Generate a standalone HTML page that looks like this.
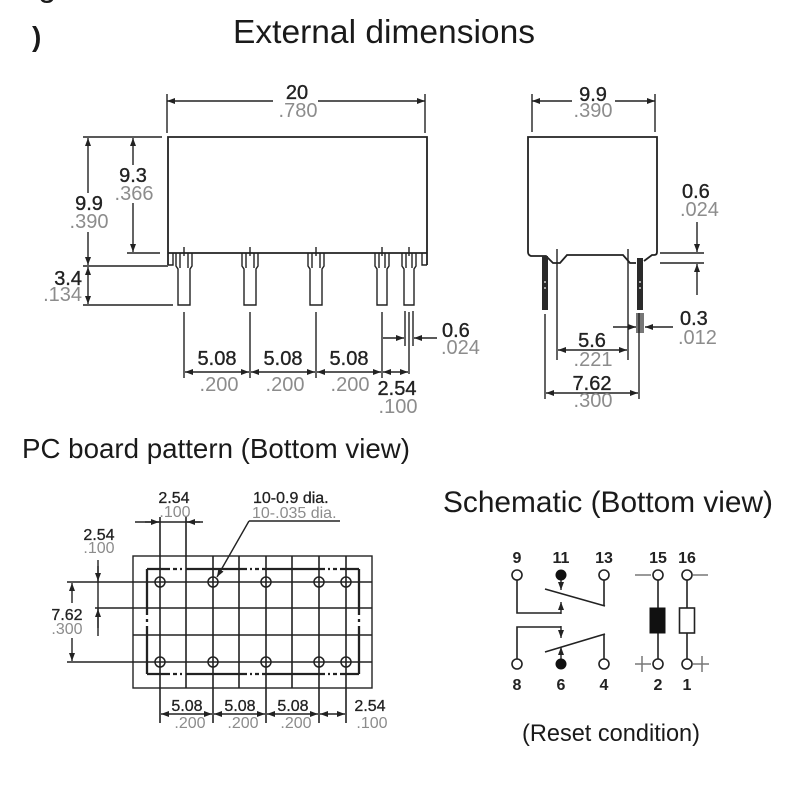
<!DOCTYPE html>
<html><head><meta charset="utf-8"><style>
html,body{margin:0;padding:0;background:#fff;}
svg{display:block;}
text{font-family:"Liberation Sans",Arial,sans-serif;}
.t{fill:#1a1a1a;}
.p{fill:#222;font-size:20px;stroke:#222;stroke-width:0.35;}
.s{fill:#8c8c8c;font-size:20px;}
.ps{fill:#222;font-size:16px;stroke:#222;stroke-width:0.3;}
.ss{fill:#8c8c8c;font-size:16px;}
.sl{fill:#222;font-size:16px;font-weight:bold;}
.l{stroke:#222;stroke-width:1.4;fill:none;}
.b{stroke:#222;stroke-width:1.8;fill:none;}
.a{stroke:#222;stroke-width:1.4;fill:none;marker-end:url(#ar);}
.aa{stroke:#222;stroke-width:1.4;fill:none;marker-end:url(#ar);marker-start:url(#ar);}
.g{stroke:#222;stroke-width:1.6;fill:none;}
</style></head><body>
<svg width="800" height="800" viewBox="0 0 800 800" xmlns="http://www.w3.org/2000/svg">
<defs>
<marker id="ar" markerUnits="userSpaceOnUse" markerWidth="8" markerHeight="6" refX="8" refY="3" orient="auto-start-reverse"><path d="M0,0 L8,3 L0,6 z" fill="#222"/></marker>
</defs>

<!-- fragments top-left -->
<text x="38" y="-4" font-size="33" class="t">g</text>
<text x="32" y="46" font-size="28" font-weight="bold" class="t">)</text>

<!-- Titles -->
<text x="233" y="43" font-size="33" class="t" textLength="302" lengthAdjust="spacingAndGlyphs">External dimensions</text>
<text x="22" y="458" font-size="28" class="t" textLength="388" lengthAdjust="spacingAndGlyphs">PC board pattern (Bottom view)</text>
<text x="443" y="512" font-size="30" class="t" textLength="330" lengthAdjust="spacingAndGlyphs">Schematic (Bottom view)</text>
<text x="522" y="741" font-size="24" class="t" textLength="178" lengthAdjust="spacingAndGlyphs">(Reset condition)</text>

<!-- ============ FRONT VIEW ============ -->
<line class="l" x1="167" y1="94" x2="167" y2="133"/>
<line class="l" x1="425" y1="94" x2="425" y2="133"/>
<line class="a" x1="273" y1="101" x2="167" y2="101"/>
<line class="a" x1="318" y1="101" x2="425" y2="101"/>
<text class="p" x="297" y="99" text-anchor="middle">20</text>
<text class="s" x="298" y="117" text-anchor="middle">.780</text>

<!-- body -->
<path class="b" d="M168,265 V137 H427 V265"/>
<line class="b" x1="168" y1="253" x2="427" y2="253"/>
<path class="l" d="M168,265 H173 V253 M427,265 H422 V253"/>
<!-- extension lines left -->
<line class="l" x1="83" y1="137" x2="162" y2="137"/>
<line class="l" x1="127" y1="253" x2="160" y2="253"/>
<line class="l" x1="83" y1="266" x2="168" y2="266"/>
<line class="l" x1="83" y1="305" x2="173" y2="305"/>
<!-- 9.9 -->
<line class="a" x1="88" y1="193" x2="88" y2="138"/>
<line class="a" x1="88" y1="232" x2="88" y2="265"/>
<text class="p" x="89" y="210" text-anchor="middle">9.9</text>
<text class="s" x="89" y="228" text-anchor="middle">.390</text>
<!-- 9.3 -->
<line class="a" x1="133" y1="165" x2="133" y2="138"/>
<line class="a" x1="133" y1="203" x2="133" y2="252"/>
<text class="p" x="133" y="182" text-anchor="middle">9.3</text>
<text class="s" x="134" y="200" text-anchor="middle">.366</text>
<!-- 3.4 -->
<line class="aa" x1="88" y1="267" x2="88" y2="304"/>
<text class="p" x="82" y="285" text-anchor="end">3.4</text>
<text class="s" x="82" y="301" text-anchor="end">.134</text>

<!-- terminals front -->
<g class="l">
<path d="M176,253 V266 L178,269 V305 H190 V269 L192,266 V253 M180,253 V268 M188,253 V268 M184,247 V256"/>
<path d="M242,253 V266 L244,269 V305 H256 V269 L258,266 V253 M246,253 V268 M254,253 V268 M250,247 V256"/>
<path d="M308,253 V266 L310,269 V305 H322 V269 L324,266 V253 M312,253 V268 M320,253 V268 M316,247 V256"/>
<path d="M375,253 V266 L377,269 V305 H387 V269 L389,266 V253 M379,253 V268 M385,253 V268 M382,247 V256"/>
<path d="M402,253 V266 L404,269 V305 H414 V269 L416,266 V253 M406,253 V268 M412,253 V268 M409,247 V256"/>
</g>
<!-- extension lines below -->
<g class="l">
<line x1="184" y1="312" x2="184" y2="378"/>
<line x1="250" y1="312" x2="250" y2="378"/>
<line x1="316" y1="312" x2="316" y2="378"/>
<line x1="382" y1="312" x2="382" y2="378"/>
<line x1="409" y1="312" x2="409" y2="374"/>
<line x1="405" y1="311" x2="405" y2="346"/>
<line x1="413" y1="311" x2="413" y2="346"/>
</g>
<line class="aa" x1="185" y1="372" x2="249" y2="372"/>
<line class="aa" x1="251" y1="372" x2="315" y2="372"/>
<line class="aa" x1="317" y1="372" x2="381" y2="372"/>
<line class="aa" x1="383" y1="372" x2="408" y2="372"/>
<text class="p" x="217" y="365" text-anchor="middle">5.08</text>
<text class="p" x="283" y="365" text-anchor="middle">5.08</text>
<text class="p" x="349" y="365" text-anchor="middle">5.08</text>
<text class="s" x="219" y="391" text-anchor="middle">.200</text>
<text class="s" x="285" y="391" text-anchor="middle">.200</text>
<text class="s" x="350" y="391" text-anchor="middle">.200</text>
<text class="p" x="397" y="395" text-anchor="middle">2.54</text>
<text class="s" x="398" y="413" text-anchor="middle">.100</text>
<!-- 0.6 front -->
<line class="a" x1="383" y1="338" x2="404" y2="338"/>
<line class="a" x1="437" y1="338" x2="414" y2="338"/>
<text class="p" x="442" y="337">0.6</text>
<text class="s" x="441" y="354">.024</text>

<!-- ============ SIDE VIEW ============ -->
<line class="l" x1="532" y1="94" x2="532" y2="132"/>
<line class="l" x1="655" y1="94" x2="655" y2="132"/>
<line class="a" x1="572" y1="101" x2="532" y2="101"/>
<line class="a" x1="615" y1="101" x2="655" y2="101"/>
<text class="p" x="593" y="101" text-anchor="middle">9.9</text>
<text class="s" x="593" y="117" text-anchor="middle">.390</text>
<path class="b" d="M528,252 V137 H657 V252 Q657,255 654,255 H652 L644,261 M636,263 H630 L623,255 H567 L560,263 H553 L546,256 H531 Q528,255 528,252"/>
<!-- side terminals -->
<rect x="542" y="256" width="6" height="54" fill="#2a2a2a"/>
<rect x="637" y="258" width="6" height="52" fill="#2a2a2a"/>
<circle cx="545" cy="282" r="0.9" fill="#fff"/><circle cx="545" cy="288" r="0.9" fill="#fff"/>
<circle cx="640" cy="282" r="0.9" fill="#fff"/><circle cx="640" cy="288" r="0.9" fill="#fff"/>
<rect x="636" y="313" width="8" height="20" fill="#777"/>
<g class="l">
<line x1="545" y1="314" x2="545" y2="399"/>
<line x1="557" y1="249" x2="557" y2="360"/>
<line x1="628" y1="249" x2="628" y2="360"/>
<line x1="639" y1="313" x2="639" y2="399"/>
<line x1="660" y1="253" x2="704" y2="253"/>
<line x1="660" y1="263" x2="704" y2="263"/>
</g>
<line class="aa" x1="558" y1="350" x2="627" y2="350"/>
<line class="aa" x1="546" y1="393" x2="638" y2="393"/>
<text class="p" x="592" y="347" text-anchor="middle">5.6</text>
<text class="s" x="593" y="366" text-anchor="middle">.221</text>
<text class="p" x="592" y="390" text-anchor="middle">7.62</text>
<text class="s" x="593" y="407" text-anchor="middle">.300</text>
<!-- 0.3 -->
<line class="a" x1="613" y1="327" x2="636" y2="327"/>
<line class="a" x1="673" y1="327" x2="645" y2="327"/>
<text class="p" x="680" y="325">0.3</text>
<text class="s" x="678" y="344">.012</text>
<!-- 0.6 side -->
<line class="a" x1="697" y1="222" x2="697" y2="252"/>
<line class="a" x1="697" y1="295" x2="697" y2="264"/>
<text class="p" x="682" y="198">0.6</text>
<text class="s" x="680" y="216">.024</text>

<!-- ============ PC BOARD ============ -->
<text class="ps" x="174" y="503" text-anchor="middle">2.54</text>
<text class="ss" x="175" y="517" text-anchor="middle">.100</text>
<line class="l" x1="135" y1="522" x2="203" y2="522"/>
<line class="a" x1="145" y1="522" x2="159" y2="522"/>
<line class="a" x1="200" y1="522" x2="187" y2="522"/>
<text class="ps" x="253" y="503">10-0.9 dia.</text>
<text class="ss" x="252" y="518">10-.035 dia.</text>
<line class="l" x1="249" y1="521" x2="340" y2="521"/>
<line class="a" x1="249" y1="521" x2="217" y2="577"/>

<text class="ps" x="99" y="540" text-anchor="middle">2.54</text>
<text class="ss" x="99" y="553" text-anchor="middle">.100</text>
<line class="l" x1="98" y1="560" x2="98" y2="636"/>
<line class="a" x1="98" y1="566" x2="98" y2="581"/>
<line class="a" x1="98" y1="628" x2="98" y2="609"/>
<text class="ps" x="67" y="620" text-anchor="middle">7.62</text>
<text class="ss" x="67" y="634" text-anchor="middle">.300</text>
<line class="a" x1="72" y1="603" x2="72" y2="583"/>
<line class="a" x1="72" y1="638" x2="72" y2="661"/>

<!-- board -->
<rect x="133" y="556" width="239" height="132" class="l"/>
<g class="g">
<line x1="67" y1="582" x2="372" y2="582"/>
<line x1="95" y1="608" x2="372" y2="608"/>
<line x1="133" y1="635" x2="372" y2="635"/>
<line x1="67" y1="662" x2="372" y2="662"/>
<line x1="160" y1="517" x2="160" y2="723"/>
<line x1="186" y1="517" x2="186" y2="688"/>
<line x1="213" y1="556" x2="213" y2="723"/>
<line x1="239" y1="556" x2="239" y2="688"/>
<line x1="266" y1="556" x2="266" y2="723"/>
<line x1="292" y1="556" x2="292" y2="688"/>
<line x1="319" y1="556" x2="319" y2="723"/>
<line x1="346" y1="556" x2="346" y2="723"/>
</g>
<!-- inner dash-dot rect -->
<g stroke="#222" stroke-width="2.3" fill="none">
<path d="M147,569 H170 M173,569 H177 M180,569 H182 M186,569 H247 M250,569 H252 M255,569 H259 M262,569 H325 M328,569 H330 M333,569 H337 M340,569 H359"/>
<path d="M147,674 H170 M173,674 H177 M180,674 H182 M186,674 H247 M250,674 H252 M255,674 H259 M262,674 H325 M328,674 H330 M333,674 H337 M340,674 H359"/>
<path d="M147,569 V615 M147,619 V622 M147,626 V674"/>
<path d="M359,569 V615 M359,619 V622 M359,626 V674"/>
</g>
<!-- holes -->
<g stroke="#222" stroke-width="1.5" fill="none">
<circle cx="160" cy="582" r="5"/><circle cx="213" cy="582" r="5"/><circle cx="266" cy="582" r="5"/><circle cx="319" cy="582" r="5"/><circle cx="346" cy="582" r="5"/>
<circle cx="160" cy="662" r="5"/><circle cx="213" cy="662" r="5"/><circle cx="266" cy="662" r="5"/><circle cx="319" cy="662" r="5"/><circle cx="346" cy="662" r="5"/>
</g>
<!-- bottom dims -->
<line class="aa" x1="161" y1="714" x2="212" y2="714"/>
<line class="aa" x1="214" y1="714" x2="265" y2="714"/>
<line class="aa" x1="267" y1="714" x2="318" y2="714"/>
<line class="aa" x1="320" y1="714" x2="345" y2="714"/>
<text class="ps" x="187" y="711" text-anchor="middle">5.08</text>
<text class="ps" x="240" y="711" text-anchor="middle">5.08</text>
<text class="ps" x="293" y="711" text-anchor="middle">5.08</text>
<text class="ss" x="190" y="728" text-anchor="middle">.200</text>
<text class="ss" x="243" y="728" text-anchor="middle">.200</text>
<text class="ss" x="296" y="728" text-anchor="middle">.200</text>
<text class="ps" x="370" y="711" text-anchor="middle">2.54</text>
<text class="ss" x="372" y="728" text-anchor="middle">.100</text>

<!-- ============ SCHEMATIC ============ -->
<g class="sl" text-anchor="middle">
<text x="517" y="563">9</text><text x="561" y="563">11</text><text x="604" y="563">13</text><text x="658" y="563">15</text><text x="687" y="563">16</text>
<text x="517" y="690">8</text><text x="561" y="690">6</text><text x="604" y="690">4</text><text x="658" y="690">2</text><text x="687" y="690">1</text>
</g>
<g stroke="#222" stroke-width="1.6" fill="none">
<path d="M517,580 V613 H561"/>
<path d="M545,589 L605,606 M604,580 V606"/>
<path d="M517,659 V627 H561"/>
<path d="M545,652 L605,634 M604,659 V634"/>
<line x1="658" y1="580" x2="658" y2="659"/>
<line x1="687" y1="580" x2="687" y2="659"/>
</g>
<line class="a" x1="561" y1="614" x2="561" y2="602"/>
<line class="a" x1="561" y1="579" x2="561" y2="590"/>
<line class="a" x1="561" y1="626" x2="561" y2="638"/>
<line class="a" x1="561" y1="660" x2="561" y2="647"/>
<g stroke="#222" stroke-width="1.6" fill="#fff">
<circle cx="517" cy="575" r="5"/><circle cx="604" cy="575" r="5"/><circle cx="658" cy="575" r="5"/><circle cx="687" cy="575" r="5"/>
<circle cx="517" cy="664" r="5"/><circle cx="604" cy="664" r="5"/><circle cx="658" cy="664" r="5"/><circle cx="687" cy="664" r="5"/>
</g>
<circle cx="561" cy="575" r="5.5" fill="#111"/>
<circle cx="561" cy="664" r="5.5" fill="#111"/>
<rect x="650" y="608" width="15" height="25" fill="#111" stroke="#111" stroke-width="1"/>
<rect x="679.5" y="608" width="15" height="25" fill="#fff" stroke="#222" stroke-width="1.6"/>
<g stroke="#777" stroke-width="1.5">
<line x1="635" y1="575" x2="651" y2="575"/>
<line x1="693" y1="575" x2="708" y2="575"/>
<line x1="635" y1="664" x2="651" y2="664"/>
<line x1="642" y1="656" x2="642" y2="672"/>
<line x1="693" y1="664" x2="709" y2="664"/>
<line x1="702" y1="656" x2="702" y2="672"/>
</g>
</svg>
</body></html>
